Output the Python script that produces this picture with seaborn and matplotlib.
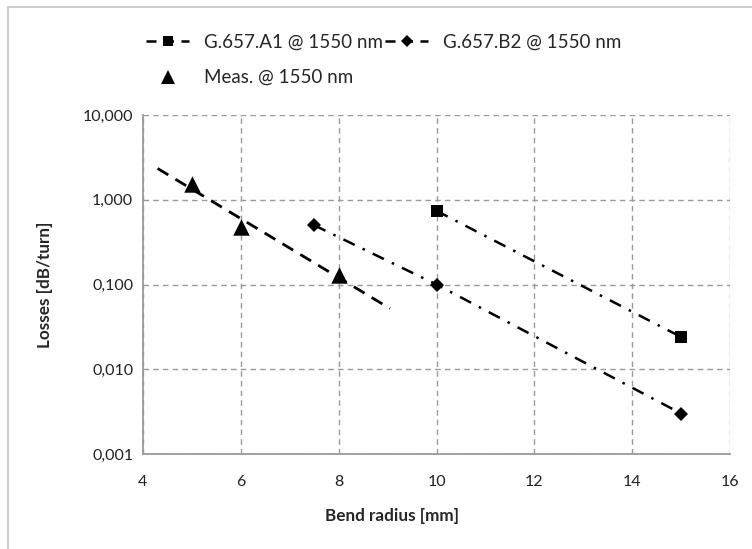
import numpy as np
import pandas as pd
import matplotlib
matplotlib.use("Agg")
import matplotlib.pyplot as plt
from matplotlib.lines import Line2D
from matplotlib.ticker import FixedLocator, FixedFormatter
import seaborn as sns

# Bend loss at 1550 nm
a1_radius = [10, 15]
a1_loss = [0.74, 0.024]
b2_radius = [7.5, 10, 15]
b2_loss = [0.5, 0.1, 0.003]
meas_radius = [5, 6, 8]
meas_loss = [1.55, 0.48, 0.13]
trend_range = [4.3, 9.05]

x_ticks = [4, 6, 8, 10, 12, 14, 16]
y_ticks = [0.001, 0.01, 0.1, 1, 10]
y_tick_labels = ["0,001", "0,010", "0,100", "1,000", "10,000"]

sns.set_style("white")
plt.rcParams["font.family"] = ["Lato", "DejaVu Sans"]

fig = plt.figure(figsize=(7.52, 5.49), dpi=100)
ax = fig.add_axes([0.190, 0.173, 0.781, 0.6175])

a1 = pd.DataFrame({"r": a1_radius, "loss": a1_loss})
b2 = pd.DataFrame({"r": b2_radius, "loss": b2_loss})
meas = pd.DataFrame({"r": meas_radius, "loss": meas_loss})

# exponential trend through the measured points
coef = np.polyfit(meas["r"], np.log10(meas["loss"]), 1)
tr = np.linspace(trend_range[0], trend_range[1], 50)
trend = pd.DataFrame({"r": tr, "loss": 10 ** np.polyval(coef, tr)})

sns.lineplot(data=a1, x="r", y="loss", ax=ax, color="black", lw=1.8,
             marker="s", markersize=9, markeredgewidth=0, zorder=3)
ax.lines[-1].set_dashes([5, 3.5, 1, 3.5])
sns.lineplot(data=b2, x="r", y="loss", ax=ax, color="black", lw=1.8,
             marker="D", markersize=7, markeredgewidth=0, zorder=3)
ax.lines[-1].set_dashes([5, 3.5, 1, 3.5])
sns.lineplot(data=trend, x="r", y="loss", ax=ax, color="black", lw=2.0, zorder=3)
ax.lines[-1].set_dashes([4.5, 3])
sns.scatterplot(data=meas, x="r", y="loss", ax=ax, color="black", marker="^",
                s=140, linewidth=0, zorder=4)

ax.set_yscale("log")
ax.set_xlim(4, 16)
ax.set_ylim(0.001, 10)
ax.xaxis.set_major_locator(FixedLocator(x_ticks))
ax.set_xticklabels([str(t) for t in x_ticks])
ax.yaxis.set_major_locator(FixedLocator(y_ticks))
ax.yaxis.set_major_formatter(FixedFormatter(y_tick_labels))
ax.yaxis.set_minor_locator(FixedLocator([]))

ax.grid(True, which="major", color="#9a9a9a", linestyle=(0, (4, 3)), lw=1.0)
for s in ["top", "right"]:
    ax.spines[s].set_visible(False)
for s in ["left", "bottom"]:
    ax.spines[s].set_color("#9a9a9a")
    ax.spines[s].set_linewidth(1.3)
ax.tick_params(axis="both", which="major", direction="out", length=5,
               color="#9a9a9a", labelsize=11.5, labelcolor="#222222")
ax.tick_params(axis="y", pad=2)
ax.tick_params(axis="x", pad=10)

ax.set_xlabel("Bend radius [mm]", fontsize=12.3, fontweight="bold")
ax.set_ylabel("Losses [dB/turn]", fontsize=12.3, fontweight="bold")
ax.xaxis.set_label_coords(0.424, -0.16)
ax.yaxis.set_label_coords(-0.153, 0.5)

h_a1 = Line2D([], [], color="black", lw=1.8, dashes=[4, 3], marker="s", markersize=7,
              markeredgewidth=0)
h_b2 = Line2D([], [], color="black", lw=1.8, dashes=[4, 3], marker="D", markersize=6,
              markeredgewidth=0)
h_meas = Line2D([], [], color="black", lw=0, marker="^", markersize=10, markeredgewidth=0)
fig.legend([h_a1, h_meas, h_b2],
           ["G.657.A1 @ 1550 nm", "Meas. @ 1550 nm", "G.657.B2 @ 1550 nm"],
           ncol=2, loc="upper left", bbox_to_anchor=(0.172, 0.97), frameon=False,
           fontsize=13.5, handlelength=2.3, handletextpad=0.8, columnspacing=0.1,
           labelspacing=1.0)

# chart frame edges
fig.add_artist(Line2D([8 / 752, 8 / 752], [0, 1 - 7 / 549], transform=fig.transFigure,
                      color="#c8c8c8", lw=1.3))
fig.add_artist(Line2D([8 / 752, 1], [1 - 7 / 549, 1 - 7 / 549], transform=fig.transFigure,
                      color="#c8c8c8", lw=1.3))

fig.savefig("out.png", dpi=100)
